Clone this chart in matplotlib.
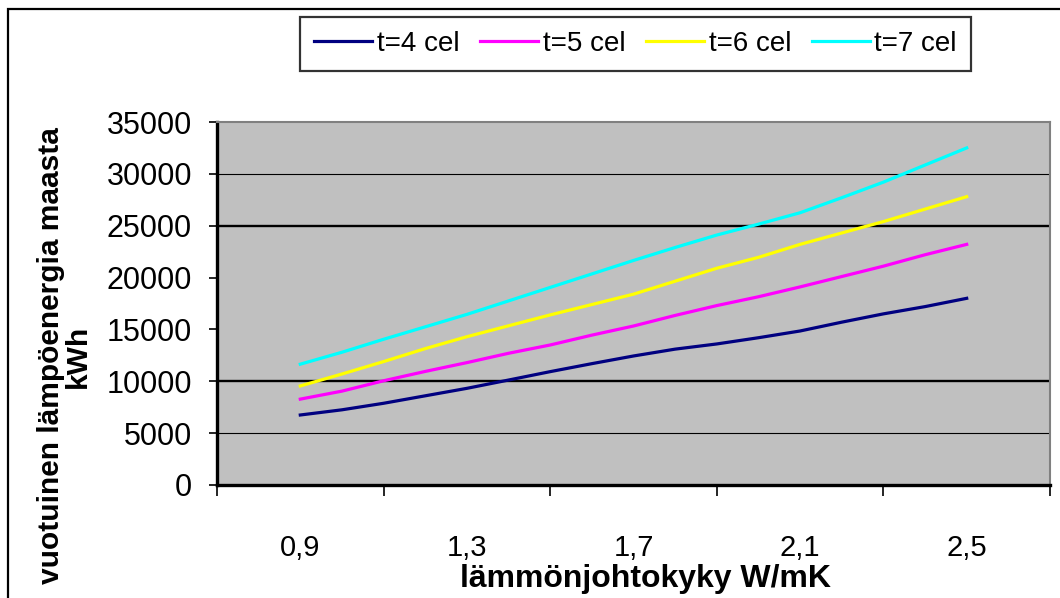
import numpy as np
import matplotlib
matplotlib.use("Agg")
import matplotlib.pyplot as plt
from matplotlib.patches import Rectangle
from matplotlib.ticker import FixedLocator, FuncFormatter, NullFormatter

plt.rcParams['font.family'] = ['Liberation Sans', 'DejaVu Sans']

# thermal conductivity W/mK
conductivity = [0.9, 1.0, 1.1, 1.2, 1.3, 1.4, 1.5, 1.6, 1.7,
                1.8, 1.9, 2.0, 2.1, 2.2, 2.3, 2.4, 2.5]

# annual heat energy from ground, kWh
t4 = [6750, 7250, 7880, 8600, 9320, 10120, 10930, 11700, 12440,
      13100, 13600, 14200, 14850, 15700, 16500, 17200, 18000]
t5 = [8280, 9050, 10050, 10950, 11800, 12700, 13500, 14450, 15330,
      16350, 17300, 18150, 19100, 20100, 21100, 22200, 23200]
t6 = [9550, 10700, 11900, 13150, 14300, 15350, 16400, 17400, 18400,
      19650, 20900, 21950, 23200, 24300, 25400, 26600, 27800]
t7 = [11650, 12800, 14050, 15250, 16450, 17750, 19050, 20350, 21650,
      22900, 24100, 25150, 26250, 27700, 29200, 30850, 32500]

series_labels = ['t=4 cel', 't=5 cel', 't=6 cel', 't=7 cel']
series_colors = ['#000080', '#FF00FF', '#FFFF00', '#00FFFF']

y_ticks = [0, 5000, 10000, 15000, 20000, 25000, 30000, 35000]
x_labels = [0.9, 1.3, 1.7, 2.1, 2.5]
x_bounds = [0.7, 1.1, 1.5, 1.9, 2.3, 2.7]

fig = plt.figure(figsize=(10.6, 5.98), dpi=100)
ax = fig.add_axes([217 / 1060, 1 - 485 / 598, 833 / 1060, 363 / 598])
ax.set_facecolor('#C0C0C0')

# horizontal gridlines
for val, lw in [(5000, 0.8), (10000, 1.7), (25000, 1.7), (30000, 0.8)]:
    ax.axhline(val, color='black', linewidth=lw, zorder=1)

for values, label, color in zip([t4, t5, t6, t7], series_labels, series_colors):
    ax.plot(conductivity, values, color=color, linewidth=2.3, label=label,
            zorder=3, solid_joinstyle='round')

ax.set_xlim(x_bounds[0], x_bounds[-1])
ax.set_ylim(0, 35000)

ax.yaxis.set_major_locator(FixedLocator(y_ticks))
ax.tick_params(axis='y', which='major', direction='out', length=6,
               width=1.2, pad=12, labelsize=22)

# tick marks sit between categories, labels centred on them
ax.xaxis.set_major_locator(FixedLocator(x_bounds))
ax.xaxis.set_major_formatter(NullFormatter())
ax.xaxis.set_minor_locator(FixedLocator(x_labels))
ax.xaxis.set_minor_formatter(FuncFormatter(lambda v, p: f'{v:.1f}'.replace('.', ',')))
ax.tick_params(axis='x', which='major', direction='out', length=8, width=1.2)
ax.tick_params(axis='x', which='minor', length=0, pad=35, labelsize=21)

for side in ['left', 'bottom']:
    ax.spines[side].set_linewidth(2.4)
    ax.spines[side].set_color('black')
for side in ['top', 'right']:
    ax.spines[side].set_linewidth(1.5)
    ax.spines[side].set_color('#808080')

fig.text(645 / 1060, 1 - 579 / 598, 'lämmönjohtokyky W/mK',
         fontsize=23, fontweight='bold', ha='center', va='center')
fig.text(64 / 1060, 1 - 356 / 598, 'vuotuinen lämpöenergia maasta\nkWh',
         fontsize=21.5, fontweight='bold', rotation=90, ha='center',
         va='center', multialignment='center', linespacing=0.95)

leg = fig.legend(loc='center', bbox_to_anchor=(635.5 / 1060, 1 - 44 / 598),
                 ncol=4, fontsize=20, frameon=True, fancybox=False,
                 handlelength=2.1, handletextpad=0.15, columnspacing=0.75,
                 borderpad=0.5, borderaxespad=0)
leg.get_frame().set_edgecolor('black')
leg.get_frame().set_linewidth(1.6)
for line in leg.get_lines():
    line.set_linewidth(2.3)

# chart area outline
fig.patches.append(Rectangle((8 / 1060, -0.1), 1.2, 1 - 9 / 598 + 0.1,
                             transform=fig.transFigure, fill=False,
                             edgecolor='black', linewidth=1.6))

fig.savefig('out.png', dpi=100)
